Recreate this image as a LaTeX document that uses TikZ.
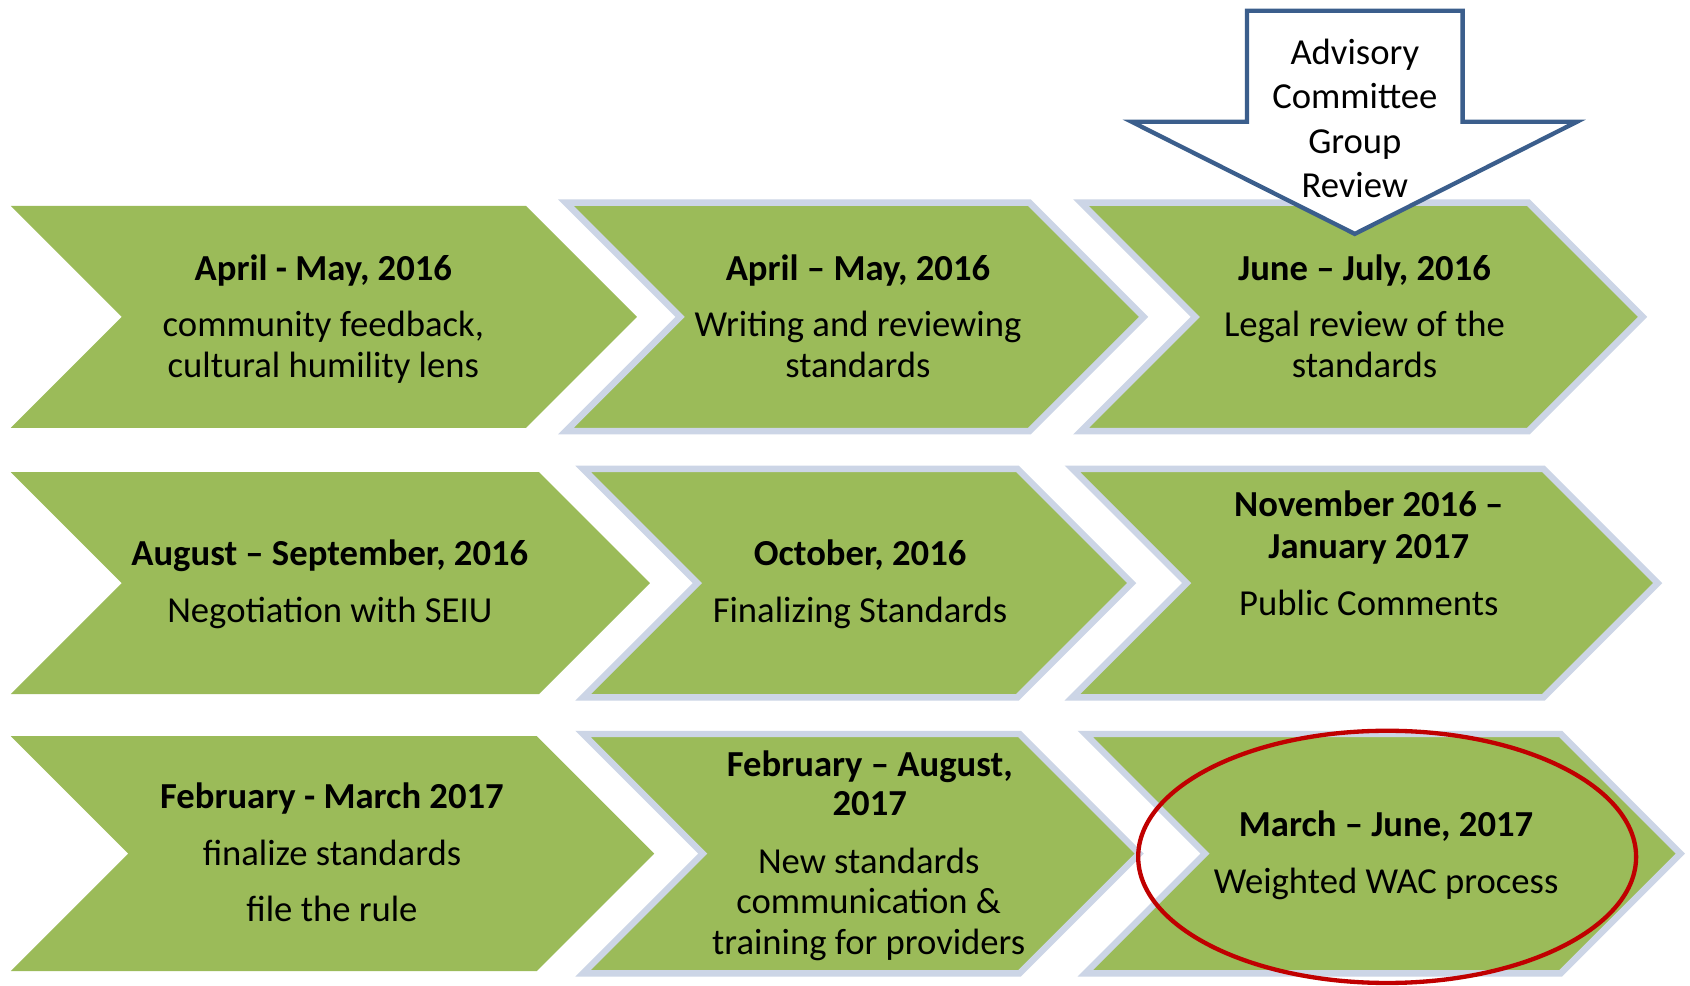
\documentclass[tikz,border=0pt]{standalone}
\usepackage{fontspec}
\setmainfont{Carlito}
\definecolor{chevgreen}{HTML}{9BBB59}
\definecolor{chevedge}{RGB}{204,213,230}
\definecolor{arrowblue}{HTML}{3B5E8C}
\definecolor{ringred}{HTML}{C00000}
\begin{document}
\begin{tikzpicture}[x=1pt,y=-1pt,
  plain/.style={fill=chevgreen},
  edged/.style={fill=chevgreen,draw=chevedge,line width=6pt},
  lbl/.style={anchor=base,inner sep=0pt,font=\fontsize{34}{38}\selectfont},
  ttl/.style={lbl,font=\fontsize{34}{38}\selectfont\bfseries}]
\useasboundingbox (0,0) rectangle (1568,914);
\fill[white] (0,0) rectangle (1568,914);

% row 1
\path[plain] (10,191) -- (488,191) -- (591,294) -- (488,397) -- (10,397) -- (113,294) -- cycle;
\path[edged] (525,188) -- (955,188) -- (1061,294) -- (955,400) -- (525,400) -- (631,294) -- cycle;
\path[edged] (1003,188) -- (1418,188) -- (1524,294) -- (1418,400) -- (1003,400) -- (1109,294) -- cycle;
% row 2
\path[plain] (10,438) -- (500,438) -- (603,541) -- (500,644) -- (10,644) -- (113,541) -- cycle;
\path[edged] (541,435) -- (944,435) -- (1050,541) -- (944,647) -- (541,647) -- (647,541) -- cycle;
\path[edged] (995,435) -- (1432,435) -- (1538,541) -- (1432,647) -- (995,647) -- (1101,541) -- cycle;
% row 3
\path[plain] (10,683) -- (498,683) -- (607,792) -- (498,901) -- (10,901) -- (119,792) -- cycle;
\path[edged] (541,681) -- (946,681) -- (1057,792) -- (946,903) -- (541,903) -- (652,792) -- cycle;
\path[edged] (1007,681) -- (1448,681) -- (1559,792) -- (1448,903) -- (1007,903) -- (1118,792) -- cycle;

% advisory arrow
\path[fill=white,draw=arrowblue,line width=4pt]
  (1157,10) -- (1357,10) -- (1357,113) -- (1463,113) -- (1257,217) -- (1050,113) -- (1157,113) -- cycle;
\node[lbl] (adv1) at (1257,60) {Advisory};
\node[lbl] (adv2) at (1257,101) {Committee};
\node[lbl] (adv3) at (1257,142) {Group};
\node[lbl] (adv4) at (1257,183) {Review};

% texts row 1
\node[ttl] (c1a) at (300,260) {April - May, 2016};
\node[lbl] (c1b) at (300,312) {community feedback,};
\node[lbl] (c1c) at (300,350) {cultural humility lens};
\node[ttl] (c2a) at (796,260) {April – May, 2016};
\node[lbl] (c2b) at (796,312) {Writing and reviewing};
\node[lbl] (c2c) at (796,350) {standards};
\node[ttl] (c3a) at (1266,260) {June – July, 2016};
\node[lbl] (c3b) at (1266,312) {Legal review of the};
\node[lbl] (c3c) at (1266,350) {standards};
% texts row 2
\node[ttl] (c4a) at (306,525) {August – September, 2016};
\node[lbl] (c4b) at (306,578) {Negotiation with SEIU};
\node[ttl] (c5a) at (798,525) {October, 2016};
\node[lbl] (c5b) at (798,578) {Finalizing Standards};
\node[ttl] (c6a) at (1270,479) {November 2016 –};
\node[ttl] (c6b) at (1270,518) {January 2017};
\node[lbl] (c6c) at (1270,571) {Public Comments};
% texts row 3
\node[ttl] (c7a) at (308,750) {February - March 2017};
\node[lbl] (c7b) at (308,803) {finalize standards};
\node[lbl] (c7c) at (308,855) {file the rule};
\node[ttl] (c8a) at (807,720) {February – August,};
\node[ttl] (c8b) at (807,757) {2017};
\node[lbl] (c8c) at (806,810) {New standards};
\node[lbl] (c8d) at (806,848) {communication \&};
\node[lbl] (c8e) at (806,886) {training for providers};
\node[ttl] (c9a) at (1286,776) {March – June, 2017};
\node[lbl] (c9b) at (1286,829) {Weighted WAC process};

% red ellipse
\draw[ringred,line width=4pt] (1287,795) ellipse (231 and 117);
\end{tikzpicture}
\end{document}
